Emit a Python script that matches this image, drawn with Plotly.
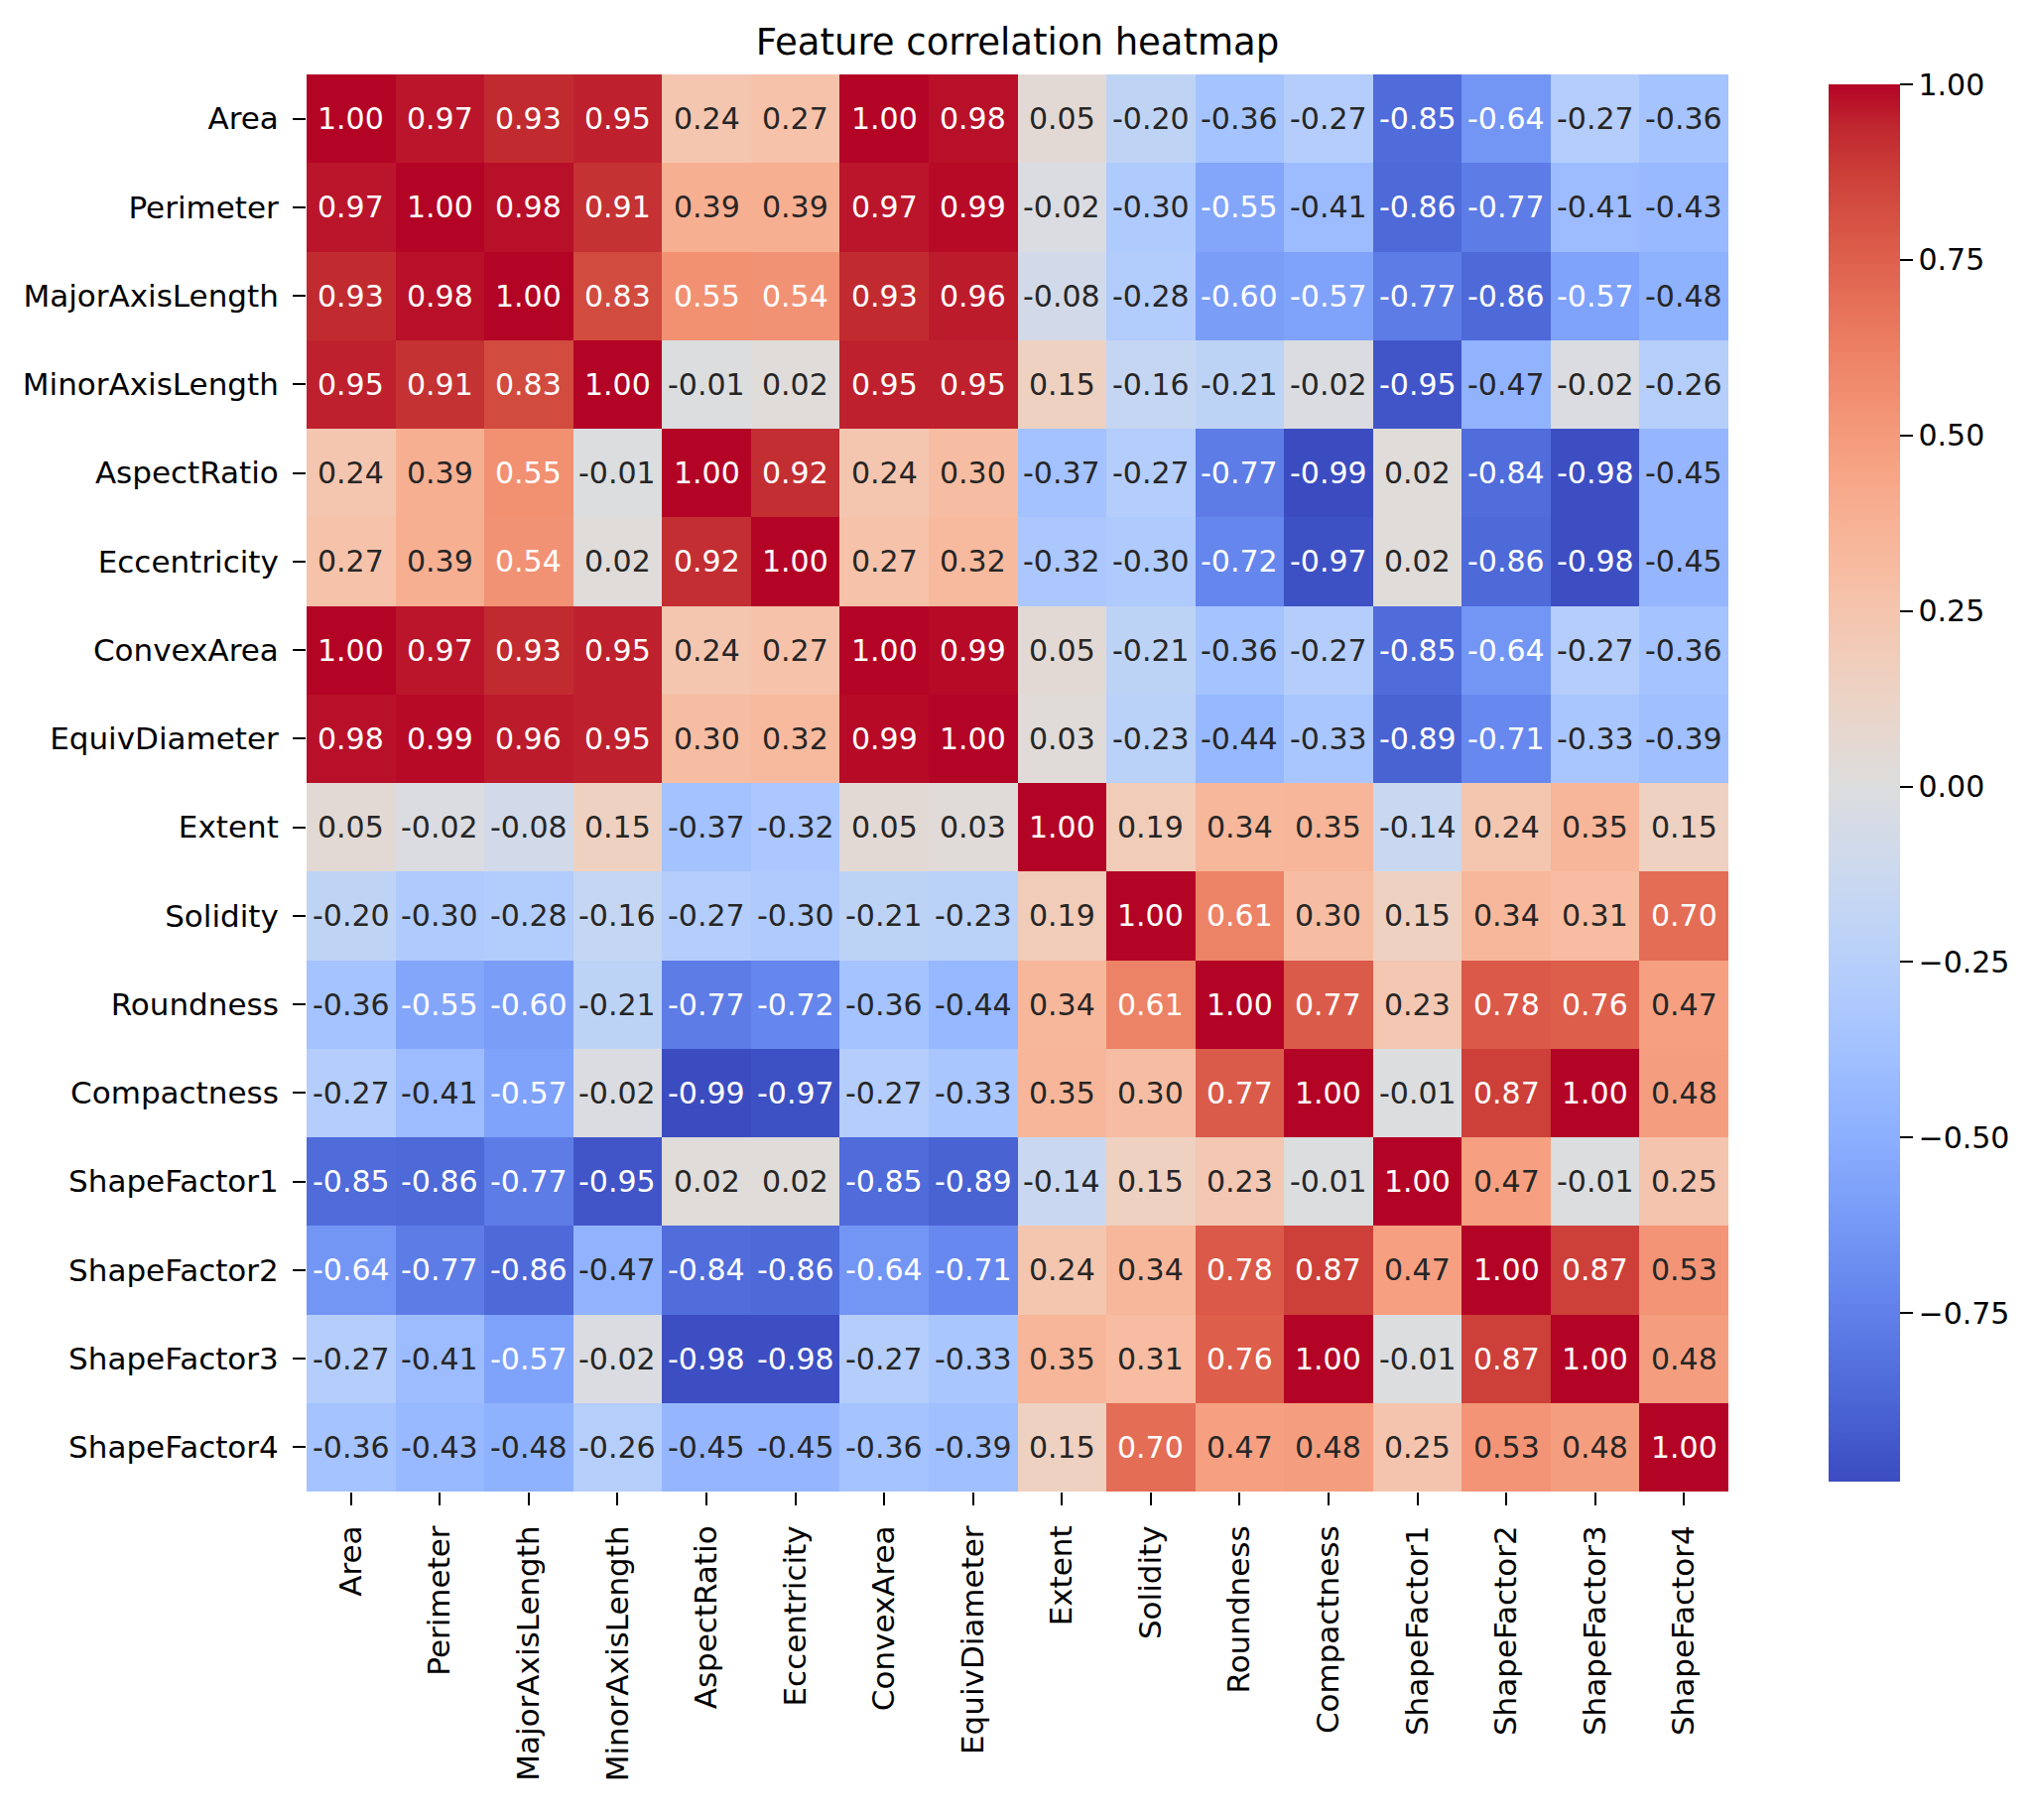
import plotly.graph_objects as go

# feature names (same order on both axes)
features = ['Area', 'Perimeter', 'MajorAxisLength', 'MinorAxisLength', 'AspectRatio',
            'Eccentricity', 'ConvexArea', 'EquivDiameter', 'Extent', 'Solidity',
            'Roundness', 'Compactness', 'ShapeFactor1', 'ShapeFactor2', 'ShapeFactor3',
            'ShapeFactor4']

# correlation rows
area = [1.00, 0.97, 0.93, 0.95, 0.24, 0.27, 1.00, 0.98, 0.05, -0.20, -0.36, -0.27, -0.85, -0.64, -0.27, -0.36]
perimeter = [0.97, 1.00, 0.98, 0.91, 0.39, 0.39, 0.97, 0.99, -0.02, -0.30, -0.55, -0.41, -0.86, -0.77, -0.41, -0.43]
major_axis = [0.93, 0.98, 1.00, 0.83, 0.55, 0.54, 0.93, 0.96, -0.08, -0.28, -0.60, -0.57, -0.77, -0.86, -0.57, -0.48]
minor_axis = [0.95, 0.91, 0.83, 1.00, -0.01, 0.02, 0.95, 0.95, 0.15, -0.16, -0.21, -0.02, -0.95, -0.47, -0.02, -0.26]
aspect_ratio = [0.24, 0.39, 0.55, -0.01, 1.00, 0.92, 0.24, 0.30, -0.37, -0.27, -0.77, -0.99, 0.02, -0.84, -0.98, -0.45]
eccentricity = [0.27, 0.39, 0.54, 0.02, 0.92, 1.00, 0.27, 0.32, -0.32, -0.30, -0.72, -0.97, 0.02, -0.86, -0.98, -0.45]
convex_area = [1.00, 0.97, 0.93, 0.95, 0.24, 0.27, 1.00, 0.99, 0.05, -0.21, -0.36, -0.27, -0.85, -0.64, -0.27, -0.36]
equiv_diam = [0.98, 0.99, 0.96, 0.95, 0.30, 0.32, 0.99, 1.00, 0.03, -0.23, -0.44, -0.33, -0.89, -0.71, -0.33, -0.39]
extent = [0.05, -0.02, -0.08, 0.15, -0.37, -0.32, 0.05, 0.03, 1.00, 0.19, 0.34, 0.35, -0.14, 0.24, 0.35, 0.15]
solidity = [-0.20, -0.30, -0.28, -0.16, -0.27, -0.30, -0.21, -0.23, 0.19, 1.00, 0.61, 0.30, 0.15, 0.34, 0.31, 0.70]
roundness = [-0.36, -0.55, -0.60, -0.21, -0.77, -0.72, -0.36, -0.44, 0.34, 0.61, 1.00, 0.77, 0.23, 0.78, 0.76, 0.47]
compactness = [-0.27, -0.41, -0.57, -0.02, -0.99, -0.97, -0.27, -0.33, 0.35, 0.30, 0.77, 1.00, -0.01, 0.87, 1.00, 0.48]
shape1 = [-0.85, -0.86, -0.77, -0.95, 0.02, 0.02, -0.85, -0.89, -0.14, 0.15, 0.23, -0.01, 1.00, 0.47, -0.01, 0.25]
shape2 = [-0.64, -0.77, -0.86, -0.47, -0.84, -0.86, -0.64, -0.71, 0.24, 0.34, 0.78, 0.87, 0.47, 1.00, 0.87, 0.53]
shape3 = [-0.27, -0.41, -0.57, -0.02, -0.98, -0.98, -0.27, -0.33, 0.35, 0.31, 0.76, 1.00, -0.01, 0.87, 1.00, 0.48]
shape4 = [-0.36, -0.43, -0.48, -0.26, -0.45, -0.45, -0.36, -0.39, 0.15, 0.70, 0.47, 0.48, 0.25, 0.53, 0.48, 1.00]

corr = [area, perimeter, major_axis, minor_axis, aspect_ratio, eccentricity, convex_area,
        equiv_diam, extent, solidity, roundness, compactness, shape1, shape2, shape3, shape4]

cbar_ticks = [-0.75, -0.50, -0.25, 0.00, 0.25, 0.50, 0.75, 1.00]

# matplotlib-ish coolwarm (Moreland table)
coolwarm_rgb = [
    (59, 76, 192), (68, 90, 204), (77, 104, 215), (87, 117, 225), (98, 130, 234),
    (108, 142, 241), (119, 154, 247), (130, 165, 251), (141, 176, 254), (152, 185, 255),
    (163, 194, 255), (174, 201, 253), (184, 208, 249), (194, 213, 244), (204, 217, 238),
    (213, 219, 230), (221, 221, 221), (229, 216, 209), (236, 211, 197), (241, 204, 185),
    (245, 196, 173), (247, 187, 160), (247, 177, 148), (247, 166, 135), (244, 154, 123),
    (241, 141, 111), (236, 127, 99), (229, 112, 88), (222, 96, 77), (213, 80, 66),
    (203, 62, 56), (192, 40, 47), (180, 4, 38)]
n = len(coolwarm_rgb) - 1
colorscale = [[i / n, 'rgb(%d,%d,%d)' % c] for i, c in enumerate(coolwarm_rgb)]

zmin = min(min(r) for r in corr)
zmax = max(max(r) for r in corr)


def color_at(v):
    t = (v - zmin) / (zmax - zmin) * n
    i = min(int(t), n - 1)
    f = t - i
    a, b = coolwarm_rgb[i], coolwarm_rgb[i + 1]
    return [(a[k] + (b[k] - a[k]) * f) / 255 for k in range(3)]


def text_color(v):
    # same rule seaborn uses for annotation colours
    lin = [c / 12.92 if c <= 0.03928 else ((c + 0.055) / 1.055) ** 2.4 for c in color_at(v)]
    lum = 0.2126 * lin[0] + 0.7152 * lin[1] + 0.0722 * lin[2]
    return '#262626' if lum > 0.408 else 'white'


font = 'DejaVu Sans'

# the page body has an 8px margin, so the figure is 8px smaller each way
W, H = 2040, 1826

fig = go.Figure()
fig.add_trace(go.Heatmap(
    z=corr, x=features, y=features,
    colorscale=colorscale, zmin=zmin, zmax=zmax,
    hoverongaps=False,
    colorbar=dict(
        x=1.0632, xanchor='left', y=0.5, yanchor='middle', len=1, lenmode='fraction',
        thickness=72, outlinewidth=0,
        tickvals=cbar_ticks, ticktext=[('%.2f' % t).replace('-', '\u2212') for t in cbar_ticks],
        ticks='outside', ticklen=13, tickwidth=2, tickcolor='black',
        tickfont=dict(family=font, size=30, color='black'),
    ),
))

annotations = []
for i, row_name in enumerate(features):
    for j, col_name in enumerate(features):
        v = corr[i][j]
        annotations.append(dict(
            x=col_name, y=row_name, xref='x', yref='y',
            text='%.2f' % v, showarrow=False,
            font=dict(family=font, size=30, color=text_color(v)),
        ))

fig.update_layout(
    width=W, height=H,
    margin=dict(l=301, r=300, t=67, b=331),
    paper_bgcolor='white', plot_bgcolor='white',
    title=dict(text='Feature correlation heatmap', x=0.5, xref='paper', xanchor='center',
               y=1 - 34 / H, yref='container', yanchor='middle',
               font=dict(family=font, size=37, color='black')),
    annotations=annotations,
    font=dict(family=font),
)
fig.update_xaxes(
    tickangle=-90, ticks='outside', ticklen=13, tickwidth=2, tickcolor='black',
    tickfont=dict(family=font, size=31, color='black'), ticklabelstandoff=8,
    showgrid=False, zeroline=False, showline=False, automargin=False,
)
fig.update_yaxes(
    autorange='reversed', ticks='outside', ticklen=13, tickwidth=2, tickcolor='black',
    tickfont=dict(family=font, size=31, color='black'), ticklabelstandoff=8,
    showgrid=False, zeroline=False, showline=False, automargin=False,
)

fig.write_html('out.html')
